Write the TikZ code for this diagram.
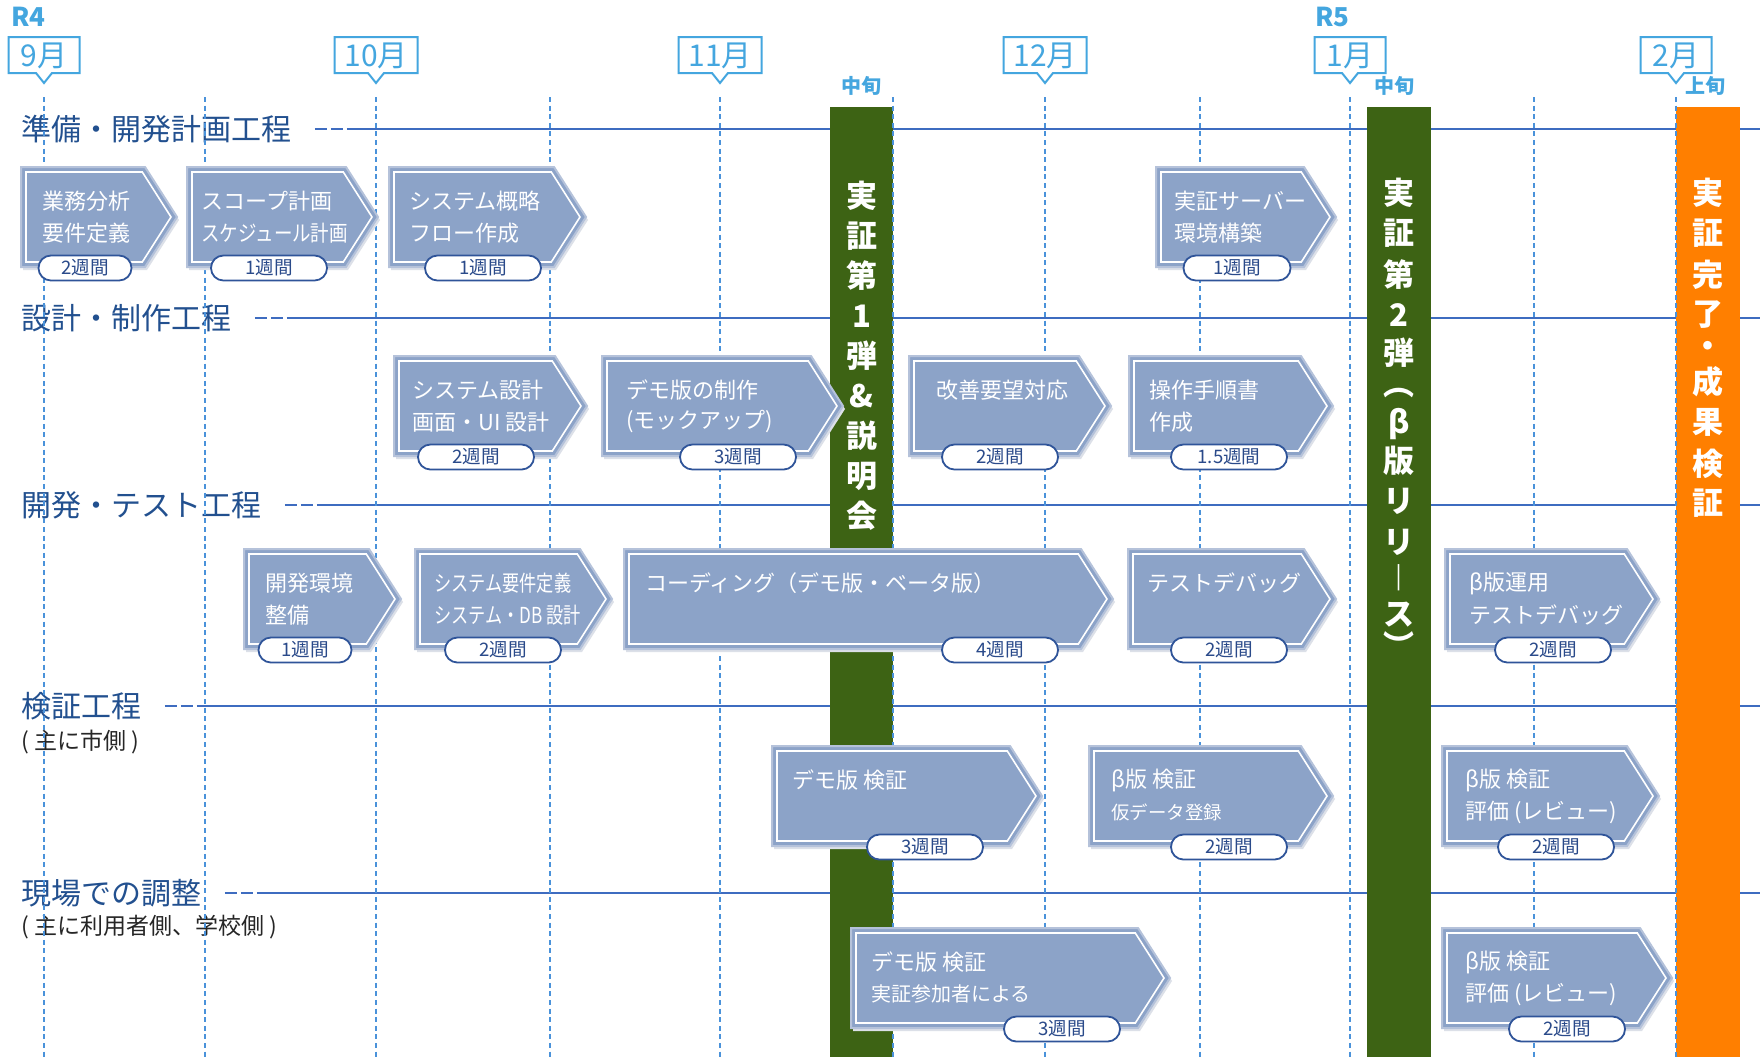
\documentclass[tikz,border=0pt]{standalone}
\usepackage{fontspec}
\setmainfont{Noto Sans CJK JP}
\usetikzlibrary{calc}
\definecolor{phaseline}{HTML}{3E6CC0}
\definecolor{dashblue}{HTML}{4A92DA}
\definecolor{monthblue}{HTML}{44A6DF}
\definecolor{navy}{HTML}{22508F}
\definecolor{boxfill}{HTML}{8CA3C8}
\definecolor{boxedge}{HTML}{B5C2DA}
\definecolor{pillblue}{HTML}{2F5499}
\definecolor{pilltext}{HTML}{2A4A8A}
\definecolor{bargreen}{HTML}{3D6314}
\definecolor{barorange}{HTML}{FF7F00}
\definecolor{shadowgray}{HTML}{DCE0E8}
\tikzset{
 vdash/.style={dashblue, line width=0.8pt, dash pattern=on 2.5pt off 1.8pt},
 hline/.style={phaseline, line width=1.4pt},
 hdash/.style={phaseline, line width=1.4pt, dash pattern=on 6pt off 2pt},
 phaselabel/.style={anchor=west, inner sep=0pt, text=navy, font=\fontsize{15}{18}\selectfont},
 sublabel/.style={anchor=west, inner sep=0pt, text=black!85, font=\fontsize{11.5}{13}\selectfont},
 monthtxt/.style={inner sep=0pt, text=monthblue, font=\fontsize{15}{17}\selectfont},
 eratxt/.style={anchor=west, inner sep=0pt, text=monthblue, font=\bfseries\fontsize{13}{15}\selectfont},
 smallblue/.style={inner sep=0pt, text=monthblue, font=\bfseries\fontsize{10}{11}\selectfont},
 tasktxt/.style={anchor=west, inner sep=0pt, text=white, font=\fontsize{11}{13}\selectfont},
 pill/.style={draw=pillblue, line width=0.9pt, fill=white, rounded corners=6.2pt, minimum height=12.5pt, inner sep=0pt, text=pilltext, font=\fontsize{9.3}{10}\selectfont},
 bartxt/.style={inner sep=0pt, text=white, font=\bfseries\fontsize{15.5}{17}\selectfont},
}
\def\pillw{116}
% name, left, tip, top, pill cx, text x, duration, line1, line2
\newcommand{\taskbox}[9]{%
 \pgfmathsetmacro\tbS{#3-32}%
 \pgfmathsetmacro\tbB{#4+100}%
 \pgfmathsetmacro\tbM{#4+50}%
 \pgfmathsetmacro\tbSi{\tbS-2.7}%
 \pgfmathsetmacro\tbPi{#3-6}%
 \pgfmathsetmacro\tbLi{#2+5}%
 \pgfmathsetmacro\tbTi{#4+5}%
 \pgfmathsetmacro\tbBi{\tbB-5}%
 \begin{scope}[shift={(2,3)}]
  \fill[shadowgray] (#2,#4) -- (\tbS,#4) -- (#3,\tbM) -- (\tbS,\tbB) -- (#2,\tbB) -- cycle;
 \end{scope}
 \filldraw[fill=boxfill, draw=boxedge, line width=1pt] (#2,#4) -- (\tbS,#4) -- (#3,\tbM) -- (\tbS,\tbB) -- (#2,\tbB) -- cycle;
 \draw[white, line width=0.8pt] (\tbLi,\tbTi) -- (\tbSi,\tbTi) -- (\tbPi,\tbM) -- (\tbSi,\tbBi) -- (\tbLi,\tbBi) -- cycle;
 \node[tasktxt] (#1a) at (#6,#4+34) {#8};
 \if\relax\detokenize{#9}\relax\else
 \node[tasktxt] (#1b) at (#6,#4+66) {#9};
 \fi
 \node[pill, minimum width=\pillw*0.5pt] (#1p) at (#5,\tbB+1) {#7};
}
% name, center x, width, text
\newcommand{\monthtag}[4]{%
 \draw[monthblue, line width=1pt, fill=white] (#2-#3/2,37) -- (#2+#3/2,37) -- (#2+#3/2,73) -- (#2+8,73) -- (#2,83) -- (#2-8,73) -- (#2-#3/2,73) -- cycle;
 \node[monthtxt] (#1) at (#2,55.5) {#4};
}
\begin{document}
\begin{tikzpicture}[x=0.5pt,y=-0.5pt]
\fill[white] (0,0) rectangle (1760,1057);
\useasboundingbox (0,0) rectangle (1760,1057);

% phase labels and horizontal lines
\node[phaselabel] (ph1) at (21,129) {準備・開発計画工程};
\node[phaselabel] (ph2) at (21,318) {設計・制作工程};
\node[phaselabel] (ph3) at (21,505) {開発・テスト工程};
\node[phaselabel] (ph4) at (21,706) {検証工程};
\node[phaselabel] (ph5) at (21,893) {現場での調整};
\node[sublabel] (sub4) at (21,742) {( 主に市側 )};
\node[sublabel] (sub5) at (21,927) {( 主に利用者側、学校側 )};
\foreach \i/\y in {1/129,2/318,3/505,4/706,5/893}{
 \coordinate (re\i) at (1760,\y);
 \draw[hdash] ([xshift=11.5pt]ph\i.east) -- ([xshift=25.5pt]ph\i.east);
 \draw[hline] ([xshift=27.5pt]ph\i.east) -- (re\i);
}

% milestone bars
\fill[bargreen] (830,107) rectangle (893,1057);
\fill[bargreen] (1367,107) rectangle (1431,1057);
\fill[barorange] (1676,107) rectangle (1740,1057);
\foreach \c/\y [count=\i] in {実/196,証/236,第/276,1/316,弾/356,\&/396,説/436,明/476,会/516}
 \node[bartxt] (ba\i) at (861.5,\y) {\c};
\foreach \c/\y [count=\i] in {実/193,証/233,第/275,2/315,弾/353,︵/393,β/424,版/461,リ/501,リ/542,︱/578,ス/615,︶/645}
 \node[bartxt] (bb\i) at (1399,\y) {\c};
\foreach \c/\y [count=\i] in {実/193,証/233,完/275,了/315,・/349,成/382,果/422,検/464,証/503}
 \node[bartxt] (bc\i) at (1708,\y) {\c};

% vertical dashed week lines
\foreach \x [count=\i] in {44,205,376,550,720,893,1045,1200,1350,1534,1676}{
 \coordinate (vt\i) at (\x,97);
 \coordinate (vb\i) at (\x,1057);
 \draw[vdash] (vt\i) -- (vb\i);
}

% month tags
\node[eratxt] (r4) at (11,17) {R4};
\node[eratxt] (r5) at (1315,17) {R5};
\monthtag{m9}{44}{71}{9月}
\monthtag{m10}{376}{83}{10月}
\monthtag{m11}{720}{83}{11月}
\monthtag{m12}{1045}{83}{12月}
\monthtag{m1}{1350}{71}{1月}
\monthtag{m2}{1676}{71}{2月}
\node[smallblue] (mid1) at (861,86) {中旬};
\node[smallblue] (mid2) at (1394,86) {中旬};
\node[smallblue] (early2) at (1705,86) {上旬};

% tasks
\def\pillw{93}
\taskbox{t1}{21}{177}{167}{85}{42}{2週間}{業務分析}{要件定義}
\def\pillw{116}
\taskbox{t2}{187}{378}{167}{269}{201}{1週間}{スコープ計画}{\scalebox{0.84}[1]{スケジュール計画}}
\taskbox{t3}{389}{586}{167}{483}{409}{1週間}{システム概略}{フロー作成}
\def\pillw{107}
\taskbox{t4}{1156}{1336}{167}{1237}{1174}{1週間}{実証サーバー}{環境構築}
\def\pillw{116}
\taskbox{t5}{394}{587}{356}{476}{412}{2週間}{システム設計}{画面・UI 設計}
\taskbox{t6}{602}{843}{356}{738}{626}{3週間}{デモ版の制作}{(モックアップ)}
\taskbox{t7}{909}{1111}{356}{1000}{936}{2週間}{改善要望対応}{}
\taskbox{t8}{1129}{1333}{356}{1229}{1149}{1.5週間}{操作手順書}{作成}
\def\pillw{93}
\taskbox{t9}{244}{401}{549}{305}{265}{1週間}{開発環境}{整備}
\def\pillw{116}
\taskbox{t10}{415}{612}{549}{503}{434}{2週間}{\scalebox{0.78}[1]{システム要件定義}}{\scalebox{0.78}[1]{システム・DB 設計}}
\taskbox{t11}{624}{1113}{549}{1000}{645}{4週間}{コーディング（デモ版・ベータ版）}{}
\taskbox{t12}{1128}{1336}{549}{1229}{1147}{2週間}{テストデバッグ}{}
\taskbox{t13}{1445}{1659}{549}{1553}{1469}{2週間}{β版運用}{テストデバッグ}
\taskbox{t14}{772}{1042}{746}{925}{792}{3週間}{デモ版 検証}{}
\taskbox{t15}{1089}{1333}{746}{1229}{1111}{2週間}{β版 検証}{\fontsize{9.2}{11}\selectfont 仮データ登録}
\taskbox{t16}{1442}{1659}{746}{1556}{1465}{2週間}{β版 検証}{評価 (レビュー)}
\taskbox{t17}{851}{1170}{928}{1062}{871}{3週間}{デモ版 検証}{\fontsize{10}{12}\selectfont 実証参加者による}
\taskbox{t18}{1442}{1672}{928}{1567}{1465}{2週間}{β版 検証}{評価 (レビュー)}
\end{tikzpicture}
\end{document}
